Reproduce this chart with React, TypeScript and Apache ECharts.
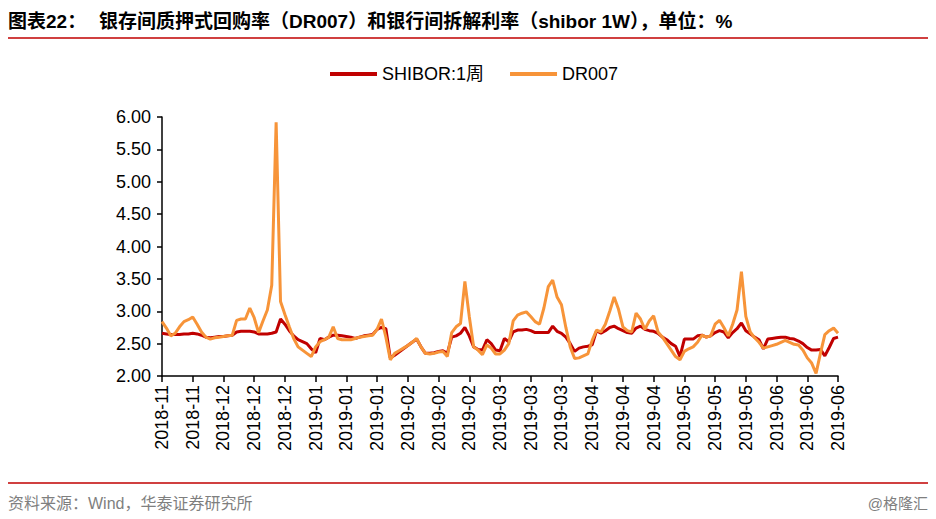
import React, { useEffect, useRef } from "react";
import * as echarts from "echarts";

const months = ["2018-11", "2018-12", "2019-01", "2019-02", "2019-03", "2019-04", "2019-05", "2019-06"];
const tradingDays = [
  [15, 16, 19, 20, 21, 22, 23, 26, 27, 28, 29, 30],
  [3, 4, 5, 6, 7, 10, 11, 12, 13, 14, 17, 18, 19, 20, 21, 24, 25, 26, 27, 28, 29],
  [2, 3, 4, 7, 8, 9, 10, 11, 14, 15, 16, 17, 18, 21, 22, 23, 24, 25, 28, 29, 30, 31],
  [1, 2, 3, 11, 12, 13, 14, 15, 18, 19, 20, 21, 22, 25, 26, 27, 28],
  [1, 4, 5, 6, 7, 8, 11, 12, 13, 14, 15, 18, 19, 20, 21, 22, 25, 26, 27, 28, 29],
  [1, 2, 3, 4, 8, 9, 10, 11, 12, 15, 16, 17, 18, 19, 22, 23, 24, 25, 26, 28, 29, 30],
  [5, 6, 7, 8, 9, 10, 13, 14, 15, 16, 17, 20, 21, 22, 23, 24, 27, 28, 29, 30, 31],
  [3, 4, 5, 6, 10, 11, 12, 13, 14, 17, 18, 19, 20, 21, 24, 25, 26, 27, 28],
];

const shibor1W = [
  2.66, 2.65, 2.64, 2.64, 2.64, 2.65, 2.65, 2.66, 2.65, 2.63,
  2.60, 2.59, 2.60, 2.61, 2.61, 2.62, 2.63, 2.68, 2.69, 2.69,
  2.69, 2.68, 2.65, 2.65, 2.65, 2.66, 2.68, 2.88, 2.80, 2.70,
  2.62, 2.56, 2.53, 2.50, 2.42, 2.36, 2.58, 2.56, 2.60, 2.63,
  2.63, 2.62, 2.61, 2.60, 2.58, 2.60, 2.62, 2.63, 2.64, 2.72,
  2.75, 2.73, 2.28, 2.32, 2.37, 2.42, 2.47, 2.52, 2.57, 2.45,
  2.35, 2.35, 2.36, 2.38, 2.39, 2.35, 2.60, 2.62, 2.66, 2.75,
  2.62, 2.45, 2.41, 2.40, 2.56, 2.50, 2.40, 2.39, 2.58, 2.53,
  2.68, 2.71, 2.71, 2.72, 2.70, 2.67, 2.67, 2.67, 2.67, 2.77,
  2.69, 2.66, 2.60, 2.50, 2.38, 2.43, 2.45, 2.46, 2.48, 2.70,
  2.66, 2.70, 2.75, 2.77, 2.73, 2.70, 2.67, 2.66, 2.74, 2.77,
  2.72, 2.70, 2.69, 2.66, 2.60, 2.56, 2.50, 2.46, 2.30, 2.57,
  2.57, 2.57, 2.62, 2.63, 2.60, 2.62, 2.67, 2.70, 2.68, 2.59,
  2.67, 2.73, 2.82, 2.70, 2.65, 2.60, 2.56, 2.42, 2.57, 2.58,
  2.59, 2.60, 2.60, 2.58, 2.57, 2.54, 2.50, 2.44, 2.40, 2.40,
  2.41, 2.31, 2.44, 2.58, 2.60,
];

const dr007 = [
  2.84, 2.74, 2.62, 2.66, 2.76, 2.84, 2.87, 2.91, 2.80, 2.68,
  2.60, 2.57, 2.59, 2.60, 2.61, 2.62, 2.63, 2.86, 2.88, 2.88,
  3.05, 2.90, 2.67, 2.85, 3.02, 3.40, 5.92, 3.15, 2.95, 2.76,
  2.58, 2.45, 2.40, 2.35, 2.30, 2.45, 2.53, 2.56, 2.60, 2.76,
  2.58, 2.56, 2.56, 2.56, 2.58, 2.60, 2.61, 2.62, 2.63, 2.72,
  2.88, 2.60, 2.25, 2.35, 2.39, 2.43, 2.47, 2.52, 2.58, 2.45,
  2.35, 2.34, 2.35, 2.37, 2.38, 2.30, 2.67, 2.76, 2.81, 3.46,
  2.92, 2.45, 2.40, 2.33, 2.48, 2.43, 2.34, 2.34, 2.40, 2.50,
  2.85, 2.94, 2.97, 2.99, 2.92, 2.84, 2.80, 3.05, 3.38, 3.48,
  3.22, 3.10, 2.75, 2.45, 2.27, 2.28, 2.31, 2.34, 2.55, 2.71,
  2.68, 2.80, 3.00, 3.22, 3.03, 2.76, 2.70, 2.68, 2.97, 2.88,
  2.72, 2.85, 2.93, 2.68, 2.60, 2.50, 2.40, 2.30, 2.25, 2.38,
  2.42, 2.45, 2.52, 2.63, 2.60, 2.62, 2.80, 2.86, 2.75, 2.62,
  2.80, 3.02, 3.61, 2.92, 2.68, 2.59, 2.52, 2.43, 2.45, 2.47,
  2.49, 2.52, 2.55, 2.52, 2.49, 2.48, 2.40, 2.28, 2.20, 2.04,
  2.35, 2.64, 2.70, 2.74, 2.66,
];

const seriesNames = ["SHIBOR:1周", "DR007"];
const titleLead = "图表22：";
const titleText = "银存间质押式回购率（DR007）和银行间拆解利率（shibor 1W），单位：%";
const sourceText = "资料来源：Wind，华泰证券研究所";
const watermark = "@格隆汇";

const FONT = "'Liberation Sans', Arial, 'Noto Sans CJK SC', sans-serif";

export default function App() {
  const ref = useRef<HTMLDivElement>(null);
  useEffect(() => {
    const dates: string[] = [];
    months.forEach((m, i) =>
      tradingDays[i].forEach((d) => dates.push(`${m}-${String(d).padStart(2, "0")}`))
    );
    const chart = echarts.init(ref.current!, null, { renderer: "svg" });
    chart.setOption({
      animation: false,
      backgroundColor: "#ffffff",
      grid: { left: 162, right: 98, top: 117, bottom: 143, containLabel: false },
      legend: {
        top: 60,
        left: 325,
        icon: "rect",
        itemWidth: 47,
        itemHeight: 4,
        itemGap: 26,
        textStyle: { fontSize: 18, color: "#000", fontFamily: FONT },
        data: seriesNames,
      },
      xAxis: {
        type: "category",
        data: dates,
        boundaryGap: false,
        axisLine: { lineStyle: { color: "#000", width: 1.5 } },
        axisTick: { interval: 6, length: 6, lineStyle: { color: "#000", width: 1.5 } },
        axisLabel: {
          interval: 6,
          rotate: 90,
          margin: 9,
          fontSize: 18,
          color: "#000",
          fontFamily: FONT,
          formatter: (v: string) => v.slice(0, 7),
        },
        splitLine: { show: false },
      },
      yAxis: {
        type: "value",
        min: 2,
        max: 6,
        interval: 0.5,
        axisLine: { show: true, lineStyle: { color: "#000", width: 1.5 } },
        axisTick: { show: true, length: 5, lineStyle: { color: "#000", width: 1.5 } },
        axisLabel: {
          margin: 11,
          fontSize: 18,
          color: "#000",
          fontFamily: FONT,
          formatter: (v: number) => v.toFixed(2),
        },
        splitLine: { show: false },
      },
      series: [
        {
          name: seriesNames[0],
          type: "line",
          data: shibor1W,
          showSymbol: false,
          symbol: "none",
          lineStyle: { color: "#C00000", width: 3 },
          itemStyle: { color: "#C00000" },
        },
        {
          name: seriesNames[1],
          type: "line",
          data: dr007,
          showSymbol: false,
          symbol: "none",
          lineStyle: { color: "#F79439", width: 3 },
          itemStyle: { color: "#F79439" },
        },
      ],
      graphic: [
        {
          type: "text",
          left: 8,
          top: 12,
          style: { text: titleLead, font: `bold 19px ${FONT}`, fill: "#000" },
        },
        {
          type: "text",
          left: 99,
          top: 12,
          style: { text: titleText, font: `bold 19px ${FONT}`, fill: "#000" },
        },
        {
          type: "line",
          shape: { x1: 8, y1: 38, x2: 928, y2: 38 },
          style: { stroke: "#C00000", lineWidth: 1.5 },
        },
        {
          type: "line",
          shape: { x1: 8, y1: 483, x2: 928, y2: 483 },
          style: { stroke: "#C00000", lineWidth: 1.5 },
        },
        {
          type: "text",
          left: 8,
          top: 495,
          style: { text: sourceText, font: `16px ${FONT}`, fill: "#7F7F7F" },
        },
        {
          type: "text",
          right: 8,
          top: 496,
          style: { text: watermark, font: `15px ${FONT}`, fill: "#7F7F7F" },
        },
      ],
    });
    return () => chart.dispose();
  }, []);
  return (
    <div
      ref={ref}
      style={{ position: "absolute", left: 0, top: 0, width: 936, height: 519, background: "#fff" }}
    />
  );
}
